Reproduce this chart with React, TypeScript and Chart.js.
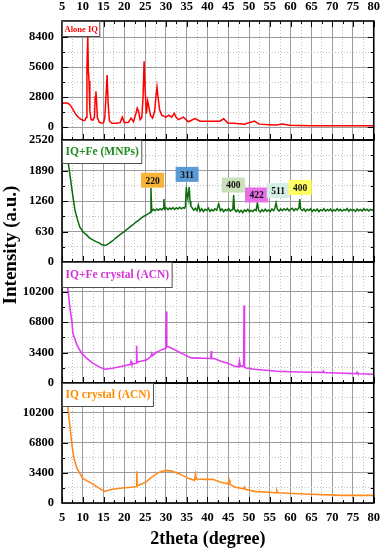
import React, { useEffect, useRef } from 'react';
import { Chart, registerables } from 'chart.js';

Chart.register(...registerables);

const FONT = "'Liberation Serif', 'Times New Roman', serif";

// ---------- axis ticks ----------
const xMajorTicks = [5, 10, 15, 20, 25, 30, 35, 40, 45, 50, 55, 60, 65, 70, 75, 80];
const xMinorTicks = [7.5, 12.5, 17.5, 22.5, 27.5, 32.5, 37.5, 42.5, 47.5, 52.5, 57.5, 62.5, 67.5, 72.5, 77.5];

const p1Major = [0, 2800, 5600, 8400];
const p1Minor = [1400, 4200, 7000];
const p2Major = [0, 630, 1260, 1890, 2520];
const p2Minor = [315, 945, 1575, 2205];
const p3Major = [0, 3400, 6800, 10200];
const p3Minor = [1700, 5100, 8500, 11900];
const p4Major = [0, 3400, 6800, 10200];
const p4Minor = [1700, 5100, 8500, 11900];

// ---------- series ----------
const aloneX = [5, 5.5, 6, 6.5, 7, 7.5, 8, 8.5, 9, 9.5, 10, 10.5, 10.8, 11.0, 11.2, 11.35, 11.5, 11.7, 12.0, 12.4, 12.8, 13.0, 13.15, 13.3, 13.5, 14, 14.5, 15, 15.3, 15.6, 15.85, 16.1, 16.4, 17, 18, 19, 19.5, 20, 21, 21.6, 22.2, 22.8, 23.1, 23.4, 23.8, 24.2, 24.5, 24.75, 25.0, 25.3, 25.6, 25.9, 26.3, 26.8, 27.3, 27.6, 27.85, 28.1, 28.5, 29, 30, 30.7, 31.4, 32, 32.5, 33, 34.2, 35.4, 37, 38.2, 40.8, 43, 43.9, 44.9, 47, 48.9, 51.3, 52.4, 55, 56.7, 57.9, 59.8, 62, 65, 70, 75, 80];
const aloneY = [2200, 2250, 2250, 2200, 2050, 1750, 1400, 1100, 900, 750, 650, 620, 900, 5600, 8600, 5200, 4300, 1500, 700, 650, 900, 2800, 3350, 2600, 900, 450, 380, 400, 900, 3000, 4850, 2200, 600, 370, 360, 420, 930, 420, 450, 840, 500, 1300, 1770, 1500, 700, 900, 2800, 6150, 3500, 1250, 2450, 1900, 1100, 850, 1500, 2900, 3750, 2800, 1600, 1120, 930, 1120, 930, 1300, 900, 700, 930, 500, 800, 560, 560, 560, 780, 380, 330, 280, 560, 280, 230, 190, 290, 180, 160, 140, 140, 130, 140];

// IQ+Fe (MNPs): [2theta, intensity]
const mnpPoints = [
  [5, 3300], [5.5, 2900], [6, 2500], [6.5, 2050], [7, 1750], [7.4, 1490], [8.1, 1075], [8.7, 880], [9.3, 720],
  [10.1, 620], [10.9, 560], [11.6, 500], [12.4, 455], [13.2, 420], [14, 390], [14.5, 360], [15, 350], [15.5, 345],
  [16, 370], [16.4, 390], [17.2, 440], [17.6, 470], [18.0, 500], [18.6, 540], [19.2, 580], [19.8, 615], [20.4, 660],
  [21.0, 700], [21.6, 740], [22.2, 780], [22.8, 825], [23.4, 860], [24.0, 900], [24.6, 940], [25.2, 970], [25.8, 1000],
  [26.2, 1020], [26.4, 1530], [26.6, 1050], [27.0, 1090], [27.4, 1060], [27.8, 1095], [28.2, 1070], [28.6, 1100],
  [29.0, 1075], [29.3, 1110], [29.5, 1300], [29.7, 1090], [30.1, 1120], [30.5, 1080], [30.9, 1115], [31.3, 1090],
  [31.7, 1125], [32.1, 1085], [32.5, 1120], [32.9, 1095], [33.3, 1130], [33.7, 1100], [34.1, 1125], [34.5, 1110],
  [34.7, 1150], [34.9, 1550], [35.1, 1380], [35.25, 1320], [35.45, 1420], [35.6, 1550], [35.8, 1260], [36.0, 1150],
  [36.3, 1120], [36.7, 1070], [37.1, 1110], [37.5, 1060], [37.8, 1180], [38.2, 1050], [38.6, 1100], [39.0, 1040],
  [39.4, 1090], [39.8, 1065], [40.2, 1110], [40.6, 1045], [41.0, 1085], [41.4, 1055], [41.8, 1100], [42.2, 1070],
  [42.7, 1200], [43.1, 1060], [43.5, 1095], [43.9, 1040], [44.3, 1085], [44.7, 1060], [45.1, 1105], [45.5, 1050],
  [45.9, 1080], [46.1, 1100], [46.3, 1385], [46.5, 1090], [46.9, 1040], [47.3, 1080], [47.7, 1030], [48.1, 1065],
  [48.5, 1020], [48.9, 1075], [49.3, 1045], [49.7, 1090], [50.1, 1035], [50.5, 1070], [50.9, 1040], [51.3, 1085],
  [51.7, 1060], [52.0, 1220], [52.3, 1070], [52.7, 1030], [53.1, 1080], [53.5, 1045], [53.9, 1090], [54.3, 1050],
  [54.7, 1075], [55.1, 1040], [55.5, 1095], [55.9, 1060], [56.2, 1110], [56.5, 1220], [56.8, 1090], [57.2, 1050],
  [57.6, 1095], [58.0, 1060], [58.4, 1100], [58.8, 1070], [59.2, 1105], [59.6, 1055], [60.0, 1090], [60.4, 1110],
  [60.8, 1060], [61.2, 1100], [61.6, 1075], [62.0, 1120], [62.2, 1300], [62.4, 1095], [62.8, 1060], [63.2, 1100],
  [63.6, 1050], [64.0, 1090], [64.4, 1065], [64.8, 1100], [65.2, 1045], [65.6, 1085], [66.0, 1055], [66.4, 1095],
  [66.8, 1040], [67.2, 1080], [67.6, 1060], [68.0, 1100], [68.4, 1050], [68.8, 1085], [69.2, 1060], [69.6, 1095],
  [70.0, 1045], [70.4, 1080], [70.8, 1055], [71.2, 1100], [71.6, 1060], [72.0, 1090], [72.4, 1050], [72.8, 1085],
  [73.2, 1065], [73.6, 1105], [74.0, 1050], [74.4, 1090], [74.8, 1060], [75.2, 1080], [75.6, 1045], [76.0, 1095],
  [76.4, 1060], [76.8, 1085], [77.2, 1050], [77.6, 1100], [78.0, 1065], [78.4, 1090], [78.8, 1055], [79.2, 1085],
  [79.6, 1070], [80.0, 1090],
];

const feCrystalX = [5, 5.5, 6, 6.5, 6.9, 7.4, 7.6, 8.6, 9.7, 10.9, 12.4, 14, 15.2, 16, 17.1, 18.3, 19.5, 20.5, 21.4, 21.6, 21.8, 22.85, 22.95, 23.05, 24.2, 25.2, 26.4, 26.6, 26.8, 27.5, 28.3, 29.2, 30.0, 30.1, 30.2, 30.6, 31.5, 32.3, 33, 34.6, 36.1, 37.8, 39, 40.8, 40.9, 41.0, 41.8, 43.2, 44.9, 46.5, 47.5, 47.7, 47.9, 48.7, 48.8, 48.9, 49.3, 51.3, 54, 56.7, 60, 64.6, 67.7, 67.9, 68.1, 72.6, 75.8, 76, 76.2, 80];
const feCrystalY = [15000, 13500, 11800, 10200, 8380, 6850, 5570, 4230, 3330, 2770, 2210, 1800, 1540, 1580, 1650, 1750, 1870, 1980, 2050, 2400, 2100, 2210, 4150, 2320, 2450, 2550, 2950, 3300, 3050, 3350, 3560, 3750, 3890, 7970, 4100, 4040, 3850, 3670, 3480, 3110, 2800, 2770, 2760, 2740, 3560, 2760, 2700, 2430, 2210, 1870, 1800, 2430, 1850, 1950, 8640, 1750, 1680, 1540, 1420, 1310, 1250, 1200, 1180, 1330, 1170, 1090, 1050, 1200, 1040, 980];

const iqCrystalX = [5, 5.5, 6, 6.5, 6.9, 7.4, 7.9, 8.6, 10, 12.1, 14, 15.2, 16, 17.1, 19.5, 22.3, 22.9, 23.0, 23.1, 23.3, 25.2, 26.6, 28.3, 29.9, 31.4, 33.5, 35.4, 36.9, 37.1, 37.3, 39.4, 41.3, 43, 44.9, 45.2, 45.4, 46.5, 48.7, 48.9, 49.1, 51.3, 56.5, 56.7, 56.9, 64.6, 72.6, 80];
const iqCrystalY = [15000, 13500, 12000, 10400, 8720, 6470, 5010, 3890, 2770, 2210, 1650, 1310, 1400, 1540, 1680, 1800, 1850, 3560, 1950, 1980, 2360, 2920, 3440, 3670, 3590, 3220, 2770, 2550, 3220, 2700, 2660, 2660, 2360, 2150, 2600, 2100, 1800, 1600, 1780, 1540, 1310, 1160, 1400, 1150, 980, 860, 860];

// ---------- labels ----------
const panelLabels = ['Alone IQ', 'IQ+Fe (MNPs)', 'IQ+Fe crystal (ACN)', 'IQ crystal (ACN)'];
const panelLineColors = ['#ff0000', '#0b6b0b', '#e03cf0', '#ff8a1e'];
const panelTextColors = ['#ff0000', '#1f8a1f', '#d633d6', '#ff8c00'];

const peakLabels = ['220', '311', '400', '422', '511', '400'];
const peakLabelX = [26.8, 35.1, 46.2, 51.8, 57.0, 62.3];
const peakLabelY = [1690, 1810, 1590, 1385, 1475, 1540];
const peakColors = ['#f8b338', '#5b9bd5', '#c9e0b8', '#e66ee6', '#d5efe6', '#ffff60'];

const MAJOR_GRID = '#9c9c9c';
const MINOR_GRID = '#c0c0c0';
const TICK_FONT = { family: FONT, size: 12.5, weight: 'bold' };

function yAxis(min: number, max: number, majors: number[], minors: number[], weight: number, stackWeight: number) {
  return {
    type: 'linear',
    position: 'left',
    stack: 'panels',
    stackWeight,
    weight,
    min,
    max,
    afterBuildTicks: (s: any) => {
      s.ticks = [...majors, ...minors].sort((a, b) => a - b).map((v) => ({ value: v }));
    },
    afterFit: (s: any) => {
      s.width = 62;
    },
    ticks: {
      autoSkip: false,
      padding: 8,
      color: '#000',
      font: TICK_FONT,
      callback: (v: any) => (majors.includes(v) ? String(v) : ''),
    },
    grid: {
      drawTicks: false,
      lineWidth: 1,
      color: (c: any) => (c.tick && majors.includes(c.tick.value) ? MAJOR_GRID : MINOR_GRID),
    },
    border: {
      display: false,
      dash: (c: any) => (c.tick && !majors.includes(c.tick.value) ? [1, 2] : []),
    },
  };
}

const panelAxes = ['y1', 'y2', 'y3', 'y4'];
const panelMajors = [p1Major, p2Major, p3Major, p4Major];
const panelMinors = [p1Minor, p2Minor, p3Minor, p4Minor];

const panelPlugin = {
  id: 'panelPlugin',
  beforeDatasetDraw(chart: any, args: any) {
    const ctx = chart.ctx;
    const ys = chart.scales[args.meta.yAxisID];
    const ca = chart.chartArea;
    ctx.save();
    ctx.beginPath();
    ctx.rect(ca.left, ys.top, ca.right - ca.left, ys.bottom - ys.top);
    ctx.clip();
  },
  afterDatasetDraw(chart: any) {
    chart.ctx.restore();
  },
  afterDraw(chart: any) {
    const ctx = chart.ctx;
    const ca = chart.chartArea;
    const xs = chart.scales.x;

    // tick marks (inward)
    ctx.save();
    ctx.strokeStyle = '#000';
    ctx.lineWidth = 1;
    panelAxes.forEach((id, pi) => {
      const ys = chart.scales[id];
      const all = [...panelMajors[pi].map((v) => [v, 6]), ...panelMinors[pi].map((v) => [v, 3])];
      all.forEach(([v, len]) => {
        const py = Math.round(ys.getPixelForValue(v)) + 0.5;
        if (py < ys.top || py > ys.bottom) return;
        ctx.beginPath();
        ctx.moveTo(ca.left, py);
        ctx.lineTo(ca.left + len, py);
        ctx.moveTo(ca.right, py);
        ctx.lineTo(ca.right - len, py);
        ctx.stroke();
      });
      const xall = [...xMajorTicks.map((v) => [v, 6]), ...xMinorTicks.map((v) => [v, 3])];
      xall.forEach(([v, len]) => {
        const px = Math.round(xs.getPixelForValue(v)) + 0.5;
        ctx.beginPath();
        ctx.moveTo(px, ys.bottom);
        ctx.lineTo(px, ys.bottom - len);
        if (pi === 0) {
          ctx.moveTo(px, ys.top);
          ctx.lineTo(px, ys.top + len);
        }
        ctx.stroke();
      });
    });

    // panel borders
    ctx.lineWidth = 1.6;
    panelAxes.forEach((id) => {
      const ys = chart.scales[id];
      ctx.strokeRect(ca.left, ys.top, ca.right - ca.left, ys.bottom - ys.top);
    });

    // panel label boxes
    const lblFont = [8.5, 11.5, 11.5, 11.5];
    const lblH = [15, 23, 25, 23];
    const lblPad = [2, 3, 3, 3];
    panelAxes.forEach((id, pi) => {
      const ys = chart.scales[id];
      ctx.font = `bold ${lblFont[pi]}px ${FONT}`;
      const w = ctx.measureText(panelLabels[pi]).width + lblPad[pi] * 2;
      ctx.fillStyle = '#fff';
      ctx.fillRect(ca.left, ys.top, w, lblH[pi]);
      ctx.strokeStyle = '#505050';
      ctx.lineWidth = 1;
      ctx.strokeRect(ca.left + 0.5, ys.top + 0.5, w, lblH[pi]);
      ctx.fillStyle = panelTextColors[pi];
      ctx.textAlign = 'left';
      ctx.textBaseline = 'middle';
      ctx.fillText(panelLabels[pi], ca.left + lblPad[pi] + 0.5, ys.top + lblH[pi] / 2 + 1);
    });

    // peak annotations (panel 2)
    const y2 = chart.scales.y2;
    ctx.font = `bold 9.5px ${FONT}`;
    peakLabels.forEach((t, i) => {
      const cx = xs.getPixelForValue(peakLabelX[i]);
      const cy = y2.getPixelForValue(peakLabelY[i]);
      const w = 23;
      const h = 15;
      ctx.fillStyle = peakColors[i];
      ctx.fillRect(cx - w / 2, cy - h / 2, w, h);
      ctx.fillStyle = '#111';
      ctx.textAlign = 'center';
      ctx.textBaseline = 'middle';
      ctx.fillText(t, cx, cy + 1);
    });

    // axis titles
    ctx.fillStyle = '#000';
    ctx.font = `bold 18px ${FONT}`;
    ctx.textAlign = 'center';
    ctx.textBaseline = 'middle';
    ctx.fillText('2theta (degree)', (ca.left + ca.right) / 2 - 10, 539);

    ctx.translate(11, 245);
    ctx.rotate(-Math.PI / 2);
    ctx.font = `bold 19px ${FONT}`;
    ctx.fillText('Intensity (a.u.)', 0, 0);
    ctx.restore();
  },
};

export default function App() {
  const ref = useRef<HTMLCanvasElement>(null);

  useEffect(() => {
    const canvas = ref.current;
    if (!canvas) return;
    const seriesData = [
      aloneX.map((x, i) => ({ x, y: aloneY[i] })),
      mnpPoints.map(([x, y]) => ({ x, y })),
      feCrystalX.map((x, i) => ({ x, y: feCrystalY[i] })),
      iqCrystalX.map((x, i) => ({ x, y: iqCrystalY[i] })),
    ];
    const widths = [1.5, 1.5, 1.6, 1.6];

    const xTickList = [...xMajorTicks, ...xMinorTicks].sort((a, b) => a - b);

    const chart = new Chart(canvas, {
      type: 'line',
      data: {
        datasets: seriesData.map((d, i) => ({
          label: panelLabels[i],
          data: d,
          xAxisID: 'x',
          yAxisID: panelAxes[i],
          borderColor: panelLineColors[i],
          backgroundColor: panelLineColors[i],
          borderWidth: widths[i],
          pointRadius: 0,
          fill: false,
          tension: 0,
        })),
      },
      options: {
        animation: false,
        responsive: false,
        maintainAspectRatio: false,
        layout: { padding: { left: 0, right: 9, top: 0, bottom: 0 } },
        plugins: { legend: { display: false }, tooltip: { enabled: false }, title: { display: false } },
        scales: {
          x: {
            type: 'linear',
            position: 'bottom',
            min: 5,
            max: 80,
            afterBuildTicks: (s: any) => {
              s.ticks = xTickList.map((v) => ({ value: v }));
            },
            afterFit: (s: any) => {
              s.height = 47;
            },
            ticks: {
              autoSkip: false,
              maxRotation: 0,
              padding: 7,
              color: '#000',
              font: TICK_FONT,
              callback: (v: any) => (xMajorTicks.includes(v) ? String(v) : ''),
            },
            grid: {
              drawTicks: false,
              lineWidth: 1,
              color: (c: any) => (c.tick && xMajorTicks.includes(c.tick.value) ? MAJOR_GRID : MINOR_GRID),
            },
            border: {
              display: false,
              dash: (c: any) => (c.tick && !xMajorTicks.includes(c.tick.value) ? [1, 2] : []),
            },
          },
          x2: {
            type: 'linear',
            position: 'top',
            min: 5,
            max: 80,
            afterBuildTicks: (s: any) => {
              s.ticks = xMajorTicks.map((v) => ({ value: v }));
            },
            afterFit: (s: any) => {
              s.height = 21;
            },
            ticks: {
              autoSkip: false,
              maxRotation: 0,
              padding: 7,
              color: '#000',
              font: TICK_FONT,
            },
            grid: { display: false, drawTicks: false },
            border: { display: false },
          },
          y1: yAxis(-1200, 9900, p1Major, p1Minor, 4, 119),
          y2: yAxis(0, 2520, p2Major, p2Minor, 3, 122),
          y3: yAxis(0, 13500, p3Major, p3Minor, 2, 121),
          y4: yAxis(0, 13500, p4Major, p4Minor, 1, 120),
        } as any,
      },
      plugins: [panelPlugin as any],
    } as any);

    return () => chart.destroy();
  }, []);

  return (
    <div style={{ position: 'absolute', left: 0, top: 0, width: 387, height: 550, background: '#fff' }}>
      <canvas ref={ref} width={387} height={550} style={{ display: 'block', width: 387, height: 550 }} />
    </div>
  );
}
